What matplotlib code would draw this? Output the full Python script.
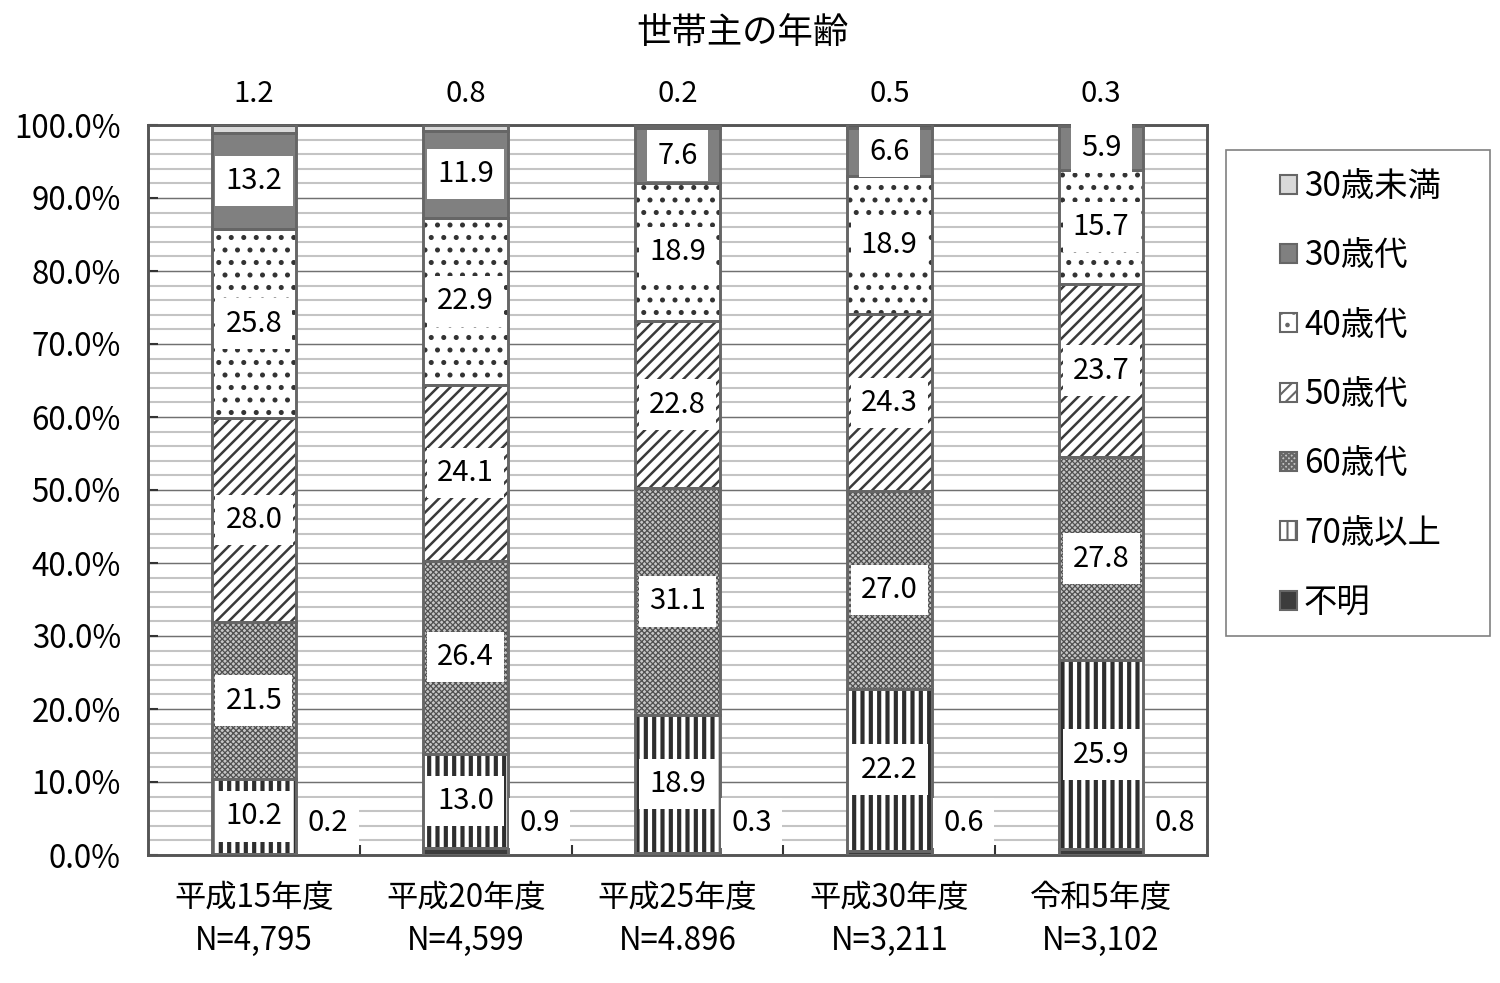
import matplotlib
matplotlib.use('Agg')
import matplotlib.pyplot as plt
import numpy as np
from matplotlib.patches import Rectangle, Patch

plt.rcParams['font.family'] = ['Noto Sans CJK JP', 'DejaVu Sans']

# ---------------- data ----------------
title = '世帯主の年齢'
categories = ['平成15年度\nN=4,795', '平成20年度\nN=4,599', '平成25年度\nN=4.896',
              '平成30年度\nN=3,211', '令和5年度\nN=3,102']
series_names = ['不明', '70歳以上', '60歳代', '50歳代', '40歳代', '30歳代', '30歳未満']
fumei = [0.2, 0.9, 0.3, 0.6, 0.8]
over70 = [10.2, 13.0, 18.9, 22.2, 25.9]
age60 = [21.5, 26.4, 31.1, 27.0, 27.8]
age50 = [28.0, 24.1, 22.8, 24.3, 23.7]
age40 = [25.8, 22.9, 18.9, 18.9, 15.7]
age30 = [13.2, 11.9, 7.6, 6.6, 5.9]
under30 = [1.2, 0.8, 0.2, 0.5, 0.3]
series_values = [fumei, over70, age60, age50, age40, age30, under30]
yticks = np.arange(0, 101, 10)

# ---------------- styles ----------------
styles = {
    '不明':     dict(face='#3c3c3c', hatch=None,        hcolor='#3c3c3c', hlw=1.0),
    '70歳以上': dict(face='white',   hatch='|||',       hcolor='#2e2e2e', hlw=2.0),
    '60歳代':   dict(face='#c6c6c6', hatch='xxxxxxxxx', hcolor='#505050', hlw=0.6),
    '50歳代':   dict(face='white',   hatch='////',      hcolor='#3a3a3a', hlw=1.2),
    '40歳代':   dict(face='white',   hatch='..',        hcolor='#333333', hlw=1.2),
    '30歳代':   dict(face='#808080', hatch=None,        hcolor='#808080', hlw=1.0),
    '30歳未満': dict(face='#d9d9d9', hatch=None,        hcolor='#d9d9d9', hlw=1.0),
}
outline = '#666666'

fig = plt.figure(figsize=(10, 983 / 150), dpi=150)
ax = fig.add_axes([148 / 1500, 1 - 855 / 983, (1207 - 148) / 1500, (855 - 125) / 983])

x = np.arange(len(categories))
width = 0.4
bottom = np.zeros(len(categories))
label_box = dict(boxstyle='square,pad=0.35', facecolor='white', edgecolor='none')
for name, vals in zip(series_names, series_values):
    st = styles[name]
    vals = np.array(vals)
    bars = ax.bar(x, vals, width, bottom=bottom, color=st['face'], edgecolor=st['hcolor'],
                  hatch=st['hatch'], linewidth=0, zorder=2)
    for b in bars:
        try:
            b.set_hatch_linewidth(st['hlw'])
        except Exception:
            pass
    ax.bar(x, vals, width, bottom=bottom, fill=False, edgecolor=outline, linewidth=1.4, zorder=3)
    for xi, v, b0 in zip(x, vals, bottom):
        if name == '不明':
            ax.text(xi + 0.35, 4.4, f'{v:.1f}', ha='center', va='center', fontsize=14, zorder=5,
                    bbox=label_box)
        elif name == '30歳未満':
            ax.text(xi, 104.3, f'{v:.1f}', ha='center', va='center', fontsize=14, zorder=5)
        else:
            ax.text(xi, b0 + v / 2, f'{v:.1f}', ha='center', va='center', fontsize=14, zorder=5,
                    bbox=label_box)
    bottom = bottom + vals

ax.set_xlim(-0.5, len(categories) - 0.5)
ax.set_ylim(0, 100)
ax.set_yticks(yticks)
ax.set_yticklabels([f'{v:.1f}%' for v in yticks], fontsize=15)
ax.set_yticks(np.arange(0, 101, 2), minor=True)
ax.set_xticks(x)
ax.set_xticklabels(categories, fontsize=15, linespacing=1.45)
ax.set_xticks(np.arange(0.5, len(categories) - 0.5, 1), minor=True)
ax.tick_params(axis='x', which='major', length=0, pad=13)
ax.tick_params(axis='x', which='minor', length=5, direction='in', width=1, color='#333333')
ax.tick_params(axis='y', which='major', length=5, direction='in', width=1, color='#333333', pad=13)
ax.tick_params(axis='y', which='minor', length=0)
ax.set_axisbelow(True)
ax.grid(axis='y', which='minor', color='#c4c4c4', linewidth=1.0, zorder=0)
ax.grid(axis='y', which='major', color='#707070', linewidth=0.7, zorder=0)
for s in ax.spines.values():
    s.set_color('#555555')
    s.set_linewidth(1.4)

fig.text(742 / 1500, 1 - 33 / 983, title, ha='center', va='center', fontsize=17)

# legend with manual frame
fig.patches.append(Rectangle((1226 / 1500, 1 - 636 / 983), 264 / 1500, 486 / 983,
                             transform=fig.transFigure, facecolor='white',
                             edgecolor='#808080', linewidth=0.8, zorder=0))
handles = []
for name in series_names[::-1]:
    st = styles[name]
    h = Patch(facecolor=st['face'], edgecolor=outline, hatch=st['hatch'], linewidth=1.0, label=name)
    handles.append(h)
leg = fig.legend(handles=handles, loc='upper left', bbox_to_anchor=(1280 / 1500, 1 - 169 / 983),
                 frameon=False, fontsize=16, handlelength=0.5, handleheight=0.5,
                 handletextpad=0.22, labelspacing=1.03, borderpad=0, borderaxespad=0)

fig.savefig('out.png', dpi=150)
